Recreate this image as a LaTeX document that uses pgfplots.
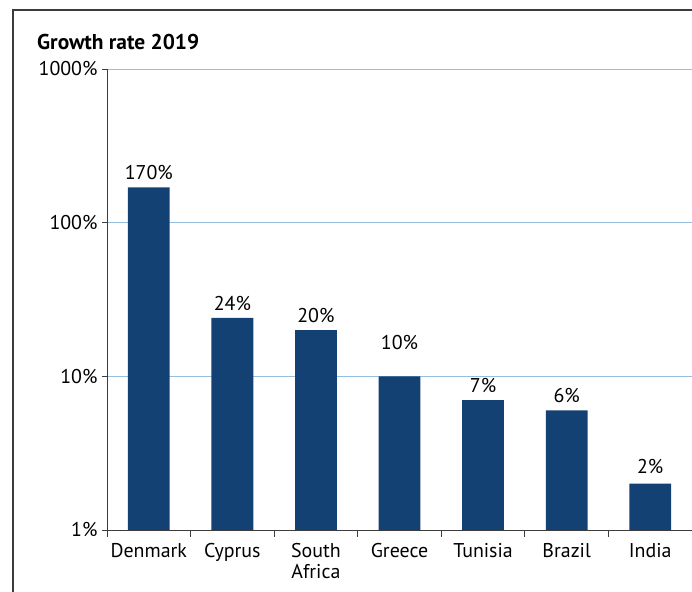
\documentclass[border=0pt]{standalone}
\usepackage{fontspec}
\setmainfont{PT Sans}
\usepackage{pgfplots}
\pgfplotsset{compat=1.18}
\definecolor{barblue}{RGB}{20,65,115}
\definecolor{gridblue}{RGB}{150,190,225}
\definecolor{axisgray}{RGB}{60,60,60}
\begin{document}
\begin{tikzpicture}[x=1bp,y=1bp]
\useasboundingbox (0,0) rectangle (692,592);
% frame
\draw[axisgray, line width=1.2bp] (13,-5) -- (13,582) -- (700,582);
\node[anchor=base west, inner sep=0pt, font=\fontsize{21.5}{24}\selectfont\bfseries] at (37,542) {Growth rate 2019};
\begin{axis}[
    at={(107bp,62bp)}, anchor=south west,
    scale only axis, width=585bp, height=461bp,
    ymode=log, ymin=1, ymax=1000,
    xmin=-0.5, xmax=6.5,
    ybar, bar width=0.5,
    axis x line=bottom, axis y line=left,
    axis line style={-, axisgray, line width=0.8bp},
    ytick={1,10,100,1000},
    yticklabels={1\%,10\%,100\%,1000\%},
    yminorticks=false,
    ymajorgrids, grid style={gridblue, line width=0.8bp},
    xtick={0,...,6},
    xticklabels={Denmark,Cyprus,{South\\Africa},Greece,Tunisia,Brazil,India},
    minor xtick={-0.5,0.5,...,6.5},
    major x tick style={draw=none},
    minor x tick style={axisgray, line width=0.8bp},
    tick align=outside,
    major tick length=5bp, minor tick length=7bp,
    y tick style={axisgray, line width=0.8bp},
    xticklabel style={align=center, anchor=north, yshift=-5bp},
    yticklabel style={xshift=-1bp},
    tick label style={font=\fontsize{20}{21}\selectfont, /pgf/number format/assume math mode=true},
    point meta=explicit symbolic,
    nodes near coords={\pgfplotspointmeta},
    nodes near coords style={font=\fontsize{20}{21}\selectfont, anchor=south, yshift=4bp},
]
\addplot[fill=barblue, draw=none] coordinates {
    (0,170) [170\%]
    (1,24) [24\%]
    (2,20) [20\%]
    (3,10) [\raisebox{19bp}{10\%}]
    (4,7) [7\%]
    (5,6) [6\%]
    (6,2) [\raisebox{3bp}{2\%}]
};
\end{axis}
\end{tikzpicture}
\end{document}
